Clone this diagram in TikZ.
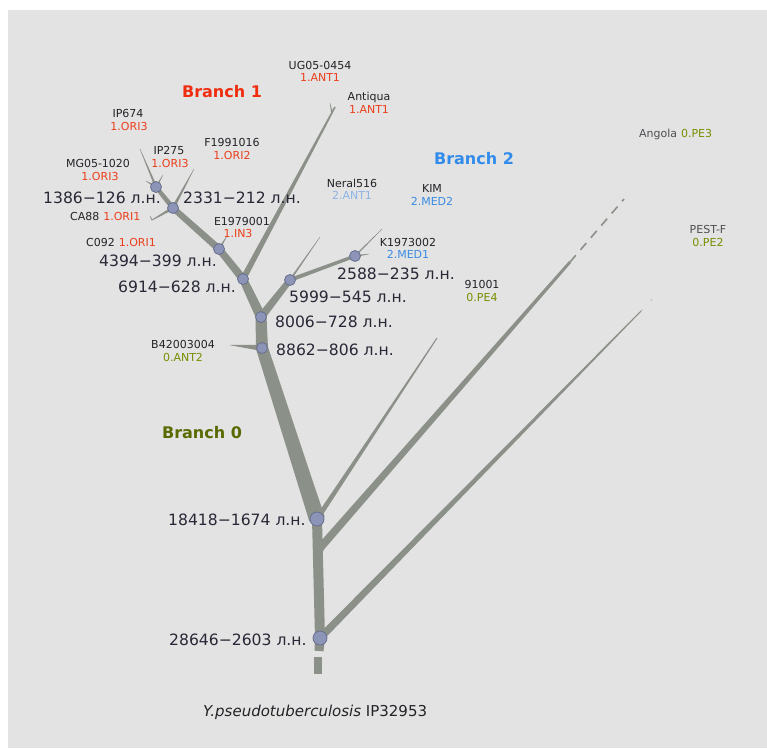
\documentclass[tikz,border=0pt]{standalone}
\usepackage{fontspec}
\setmainfont{DejaVu Sans}
\usetikzlibrary{calc}
\definecolor{bg}{RGB}{227,227,227}
\definecolor{trunk}{RGB}{139,144,136}
\definecolor{nodefill}{RGB}{140,148,184}
\definecolor{nodeedge}{RGB}{105,110,140}
\definecolor{redl}{RGB}{236,62,26}
\definecolor{bluel}{RGB}{58,140,226}
\definecolor{bluefaint}{RGB}{140,180,230}
\definecolor{olive}{RGB}{120,142,0}
\definecolor{txt}{RGB}{35,35,40}
\definecolor{datec}{RGB}{40,40,55}
\definecolor{br0}{RGB}{90,106,0}
\definecolor{br1}{RGB}{240,45,15}
\definecolor{br2}{RGB}{50,140,235}
\newcommand{\brtaper}[4]{%
  \fill[trunk] ($(#1)!#3!90:(#2)$) -- ($(#2)!#4!-90:(#1)$) -- ($(#2)!#4!90:(#1)$) -- ($(#1)!#3!-90:(#2)$) -- cycle;}
\begin{document}
\begin{tikzpicture}[x=1pt,y=-1pt,
  lbl/.style={inner sep=0pt, text depth=0pt, font=\fontsize{11}{13}\selectfont, text=txt},
  redlbl/.style={lbl, text=redl},
  bluelbl/.style={lbl, text=bluel},
  olivelbl/.style={lbl, text=olive},
  datelbl/.style={inner sep=0pt, text depth=0pt, anchor=west, font=\fontsize{15.6}{18}\selectfont, text=datec},
  brlbl/.style={inner sep=0pt, text depth=0pt, font=\bfseries\fontsize{16}{18}\selectfont},
  jn/.style={circle, draw=nodeedge, line width=0.8pt, fill=nodefill, inner sep=0pt, minimum size=11pt},
  bigjn/.style={jn, minimum size=14pt}]
\useasboundingbox (0,0) rectangle (767,748);
\fill[white] (0,0) rectangle (767,748);
\fill[bg] (8,10) rectangle (767,748);

% junction coordinates
\coordinate (c28646) at (320,638);
\coordinate (c18418) at (317,519);
\coordinate (c8862) at (262,348);
\coordinate (c8006) at (261,317);
\coordinate (c6914) at (243,279);
\coordinate (c5999) at (290,280);
\coordinate (c2588) at (355,256);
\coordinate (c4394) at (219,249);
\coordinate (c2331) at (173,208);
\coordinate (c1386) at (156,187);
\coordinate (cbase) at (319,651);
\coordinate (jPE3) at (320,548);
% tips
\coordinate (tAnt) at (335,107);
\coordinate (tUG) at (330,103);
\coordinate (jUG) at (332,113);
\coordinate (tIP674) at (140,149);
\coordinate (tIP275) at (163,175);
\coordinate (tMG) at (146,181);
\coordinate (tF199) at (194,169);
\coordinate (tCA88) at (152,220);
\coordinate (tCA88b) at (150,216);
\coordinate (tE197) at (227,236);
\coordinate (tNeral) at (320,237);
\coordinate (tK197) at (382,229);
\coordinate (t2588s) at (369,254);
\coordinate (tB42) at (230,345);
\coordinate (tPE4) at (437,338);
\coordinate (tPE3) at (570,262);
\coordinate (tPE3b) at (624,199);
\coordinate (tPE2) at (641,311);
\coordinate (tPE2b) at (660,291);

% trunk and branches
\brtaper{cbase}{c28646}{4.5pt}{5pt}
\brtaper{c28646}{c18418}{5pt}{5pt}
\brtaper{c18418}{c8862}{8pt}{6pt}
\brtaper{c8862}{c8006}{6pt}{5.5pt}
\brtaper{c8006}{c6914}{5pt}{4pt}
\brtaper{c8006}{c5999}{4pt}{3pt}
\brtaper{c6914}{c4394}{4pt}{3.5pt}
\brtaper{c4394}{c2331}{3.5pt}{3pt}
\brtaper{c2331}{c1386}{2.5pt}{2pt}
\brtaper{c6914}{tAnt}{3pt}{0.8pt}
\brtaper{jUG}{tUG}{0.8pt}{0.2pt}
\brtaper{c5999}{c2588}{2pt}{1.6pt}
\brtaper{c2588}{t2588s}{1pt}{0.2pt}
\brtaper{c2588}{tK197}{0.8pt}{0.2pt}
\brtaper{c5999}{tNeral}{1pt}{0.2pt}
\brtaper{c1386}{tIP674}{1.2pt}{0.2pt}
\brtaper{c1386}{tIP275}{1pt}{0.2pt}
\brtaper{c1386}{tMG}{1.2pt}{0.2pt}
\brtaper{c2331}{tF199}{1.6pt}{0.2pt}
\brtaper{c2331}{tCA88}{1.6pt}{0.4pt}
\brtaper{tCA88}{tCA88b}{0.6pt}{0.2pt}
\brtaper{c4394}{tE197}{1.2pt}{0.2pt}
\brtaper{c8862}{tB42}{3pt}{0.2pt}
\brtaper{c18418}{tPE4}{2.5pt}{0.5pt}
\brtaper{jPE3}{tPE3}{4pt}{1.4pt}
\brtaper{c28646}{tPE2}{3.8pt}{0.5pt}
\fill[trunk] (c18418) circle (7);
\fill[trunk] (jPE3) circle (4.5);
\fill[trunk] (c8006) circle (5.5);
\fill[trunk] (c6914) circle (4.5);
\fill[trunk] (c4394) circle (3.5);
\fill[trunk] (c2331) circle (3);
\draw[trunk, line width=1.6pt, dash pattern=on 9pt off 7pt] (tPE3) -- (tPE3b);
\draw[trunk!60, line width=1pt, dash pattern=on 2pt off 12pt] (tPE2) -- (tPE2b);
\fill[trunk] (314,657) rectangle (322,674);

% junction nodes
\node[bigjn] (n28646) at (c28646) {};
\node[bigjn] (n18418) at (c18418) {};
\node[jn] (n8862) at (c8862) {};
\node[jn] (n8006) at (c8006) {};
\node[jn] (n6914) at (c6914) {};
\node[jn] (n5999) at (c5999) {};
\node[jn] (n2588) at (c2588) {};
\node[jn] (n4394) at (c4394) {};
\node[jn] (n2331) at (c2331) {};
\node[jn] (n1386) at (c1386) {};

% date labels
\node[datelbl] (d1386) at (43,198) {1386−126 л.н.};
\node[datelbl] (d2331) at (183,198) {2331−212 л.н.};
\node[datelbl] (d4394) at (99,261) {4394−399 л.н.};
\node[datelbl] (d6914) at (118,287) {6914−628 л.н.};
\node[datelbl] (d2588) at (337,274) {2588−235 л.н.};
\node[datelbl] (d5999) at (289,297) {5999−545 л.н.};
\node[datelbl] (d8006) at (275,322) {8006−728 л.н.};
\node[datelbl] (d8862) at (276,350) {8862−806 л.н.};
\node[datelbl] (d18418) at (168,520) {18418−1674 л.н.};
\node[datelbl] (d28646) at (169,640) {28646−2603 л.н.};

% branch titles
\node[brlbl, text=br1] (b1) at (222,91) {Branch 1};
\node[brlbl, text=br2] (b2) at (474,158) {Branch 2};
\node[brlbl, text=br0] (b0) at (202,432) {Branch 0};

% strain labels
\node[lbl] (sUG) at (320,65) {UG05-0454};
\node[redlbl] (gUG) at (320,77) {1.ANT1};
\node[lbl] (sAnt) at (369,96) {Antiqua};
\node[redlbl] (gAnt) at (369,109) {1.ANT1};
\node[lbl] (sIP674) at (128,113) {IP674};
\node[redlbl] (gIP674) at (129,126) {1.ORI3};
\node[lbl] (sIP275) at (169,150) {IP275};
\node[redlbl] (gIP275) at (170,163) {1.ORI3};
\node[lbl] (sF199) at (232,142) {F1991016};
\node[redlbl] (gF199) at (232,155) {1.ORI2};
\node[lbl] (sMG) at (98,163) {MG05-1020};
\node[redlbl] (gMG) at (100,176) {1.ORI3};
\node[lbl, anchor=west] (sCA88) at (70,216) {CA88};
\node[redlbl, anchor=west] (gCA88) at (sCA88.east) {~1.ORI1};
\node[lbl, anchor=west] (sC092) at (86,242) {C092};
\node[redlbl, anchor=west] (gC092) at (sC092.east) {~1.ORI1};
\node[lbl] (sE197) at (242,221) {E1979001};
\node[redlbl] (gE197) at (238,233) {1.IN3};
\node[lbl] (sNeral) at (352,183) {Neral516};
\node[lbl, text=bluefaint] (gNeral) at (352,195) {2.ANT1};
\node[lbl] (sKIM) at (432,188) {KIM};
\node[bluelbl] (gKIM) at (432,201) {2.MED2};
\node[lbl] (sK197) at (408,242) {K1973002};
\node[bluelbl] (gK197) at (408,254) {2.MED1};
\node[lbl] (s91001) at (482,284) {91001};
\node[olivelbl] (g91001) at (482,297) {0.PE4};
\node[lbl, text=txt!80, anchor=west] (sAng) at (639,133) {Angola};
\node[olivelbl, anchor=west] (gAng) at (sAng.east) {~0.PE3};
\node[lbl, text=txt!80] (sPEST) at (708,229) {PEST-F};
\node[olivelbl] (gPEST) at (708,242) {0.PE2};
\node[lbl] (sB42) at (183,344) {B42003004};
\node[olivelbl] (gB42) at (183,357) {0.ANT2};

\node[inner sep=0pt, text depth=0pt, anchor=west, font=\fontsize{15}{18}\selectfont, text=txt] (root) at (203,711) {\textit{Y.pseudotuberculosis} IP32953};
\end{tikzpicture}
\end{document}
